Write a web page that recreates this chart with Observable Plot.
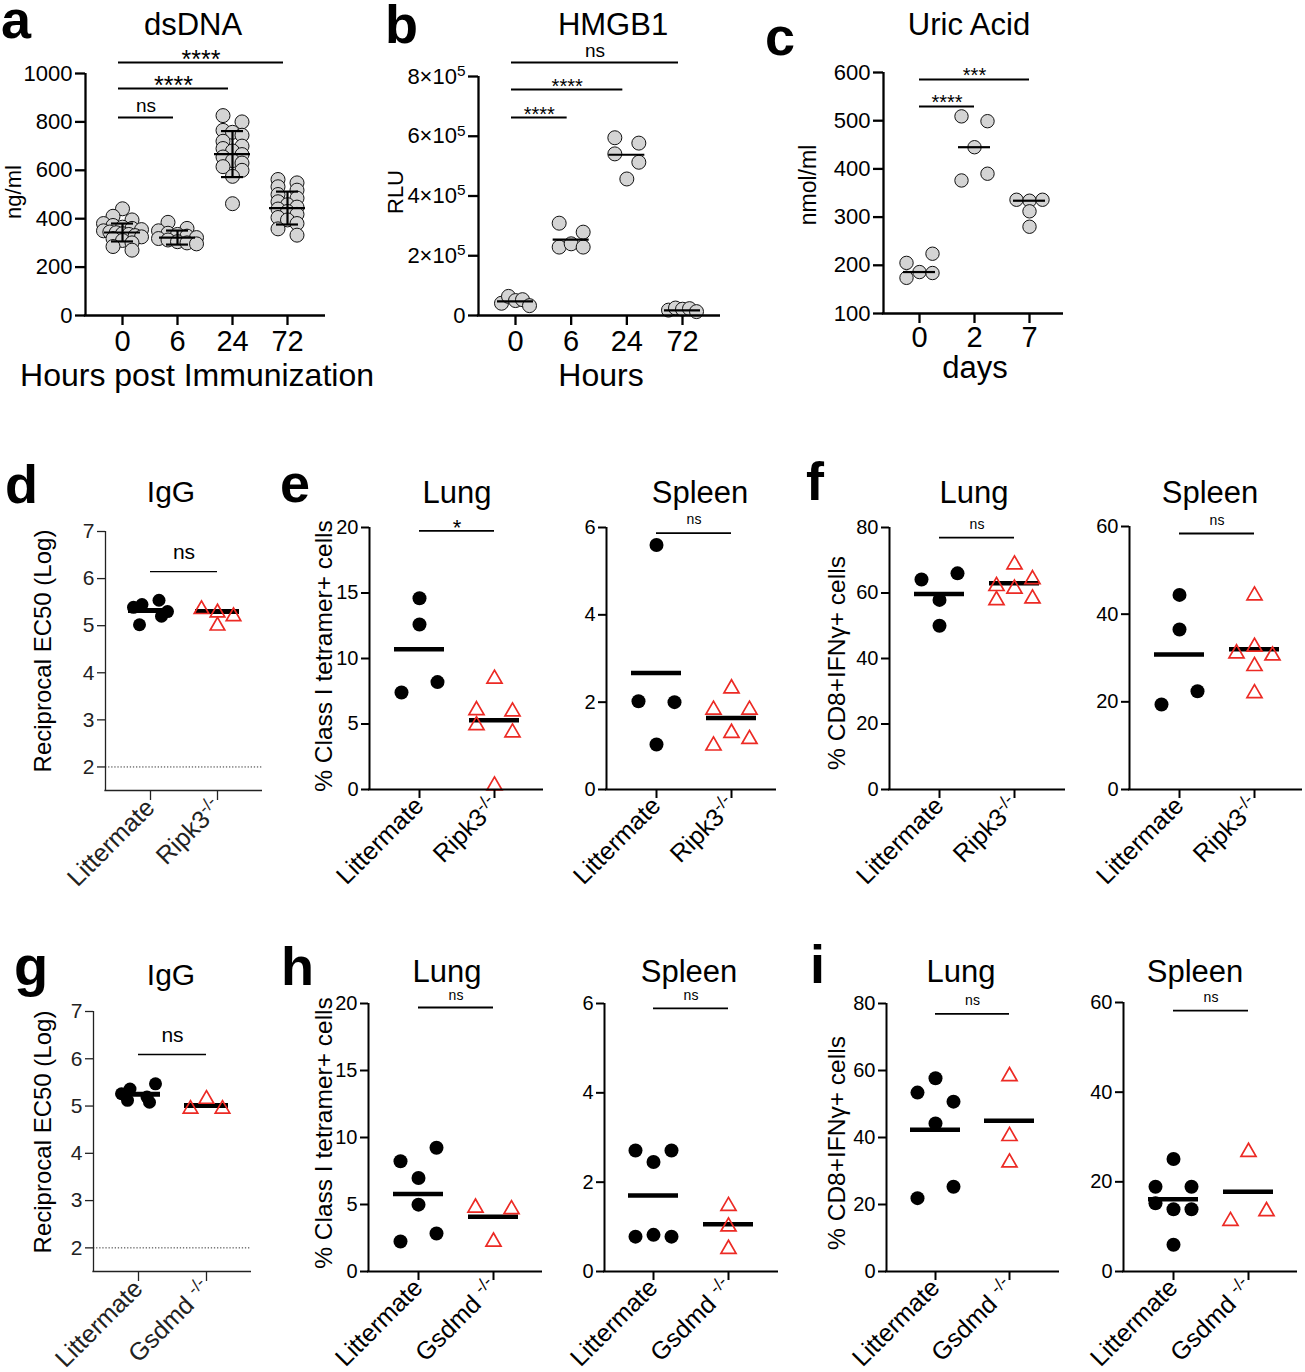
<!DOCTYPE html>
<html><head><meta charset="utf-8">
<script src="https://cdn.jsdelivr.net/npm/d3@7"></script>
<script src="https://cdn.jsdelivr.net/npm/@observablehq/plot@0.6"></script>
<style>
html,body{margin:0;padding:0;background:#fff;}
#fig{position:relative;width:1305px;height:1372px;overflow:hidden;background:#fff;}
</style></head><body><div id="fig"></div>
<script>
// ---------------- DATA ----------------
// a: dsDNA
const aCategories = ["0", "6", "24", "72"];
const aGroup0 = [441, 410, 395, 380, 372, 365, 360, 355, 350, 345, 342, 338, 335, 330, 325, 318, 310, 300, 285, 270];
const aGroup6 = [385, 360, 350, 340, 335, 328, 322, 318, 312, 305, 300, 296];
const aGroup24 = [826, 800, 765, 757, 745, 720, 700, 690, 680, 665, 655, 640, 630, 615, 600, 575, 462];
const aGroup72 = [562, 548, 532, 518, 500, 485, 470, 458, 448, 440, 430, 418, 405, 395, 380, 358, 332];
const aMean = [343, 322, 667, 444];
const aSD = [37, 29, 95, 68];
const aTicks = [0, 200, 400, 600, 800, 1000];
const aSig = [
  {from: "0", to: "6", y: 818, label: "ns"},
  {from: "0", to: "24", y: 938, label: "****"},
  {from: "0", to: "72", y: 1045, label: "****"}
];
// b: HMGB1
const bCategories = ["0", "6", "24", "72"];
const bGroup0 = [41000, 64000, 50000, 53000, 33000];
const bGroup6 = [309000, 279000, 229000, 240000, 229000];
const bGroup24 = [595000, 577000, 541000, 513000, 457000];
const bGroup72 = [18000, 25000, 21000, 23000, 13000];
const bMedian = [47000, 254000, 538000, 17000];
const bTicks = [0, 200000, 400000, 600000, 800000];
const bSig = [
  {from: "0", to: "6", y: 662800, label: "****"},
  {from: "0", to: "24", y: 756500, label: "****"},
  {from: "0", to: "72", y: 846900, label: "ns"}
];
// c: Uric Acid
const cCategories = ["0", "2", "7"];
const cGroup0 = [205, 224, 174, 186, 184];
const cGroup2 = [509, 499, 445, 376, 390];
const cGroup7 = [336, 334, 336, 312, 280];
const cMedian = [186, 445, 334];
const cTicks = [100, 200, 300, 400, 500, 600];
const cSig = [
  {from: "0", to: "2", y: 529.5, label: "****"},
  {from: "0", to: "7", y: 585.5, label: "***"}
];
// group labels
const ripkGroups = ["Littermate", "Ripk3^-/-"];
const gsdmdGroups = ["Littermate", "Gsdmd ^-/-"];
// d: IgG (Ripk3)
const dLitter = [5.39, 5.45, 5.54, 5.30, 5.02, 5.20];
const dRipk3 = [5.39, 5.32, 5.24, 5.04];
const dMean = [5.32, 5.30];
const igTicks = [2, 3, 4, 5, 6, 7];
const dSig = [{from: "Littermate", to: "Ripk3^-/-", y: 6.15, label: "ns"}];
// e: Class I tetramer+ (Ripk3)
const eLungLitter = [14.6, 12.6, 7.4, 8.2];
const eLungRipk3 = [8.6, 6.2, 6.1, 5.05, 4.5, 0.45];
const eLungMean = [10.7, 5.28];
const eSpleenLitter = [5.6, 2.02, 2.0, 1.03];
const eSpleenRipk3 = [2.36, 1.87, 1.87, 1.05, 1.34, 1.2];
const eSpleenMean = [2.67, 1.64];
const tetLungTicks = [0, 5, 10, 15, 20];
const tetSpleenTicks = [0, 2, 4, 6];
const eLungSig = [{from: "Littermate", to: "Ripk3^-/-", y: 19.75, label: "*"}];
const eSpleenSig = [{from: "Littermate", to: "Ripk3^-/-", y: 5.87, label: "ns"}];
// f: CD8+IFNg+ (Ripk3)
const fLungLitter = [64.1, 66.0, 57.9, 50.0];
const fLungRipk3 = [69.3, 62.7, 61.9, 64.8, 58.4, 58.9];
const fLungMean = [59.7, 63.0];
const fSpleenLitter = [44.4, 36.5, 19.4, 22.4];
const fSpleenRipk3 = [44.7, 31.5, 33.0, 31.0, 28.6, 22.4];
const fSpleenMean = [30.8, 32.0];
const ifnLungTicks = [0, 20, 40, 60, 80];
const ifnSpleenTicks = [0, 20, 40, 60];
const fLungSig = [{from: "Littermate", to: "Ripk3^-/-", y: 76.9, label: "ns"}];
const fSpleenSig = [{from: "Littermate", to: "Ripk3^-/-", y: 58.4, label: "ns"}];
// g: IgG (Gsdmd)
const gLitter = [5.26, 5.36, 5.19, 5.47, 5.12, 5.08];
const gGsdmd = [4.98, 5.19, 4.98];
const gMean = [5.25, 5.01];
const gSig = [{from: "Littermate", to: "Gsdmd ^-/-", y: 6.09, label: "ns"}];
// h: Class I tetramer+ (Gsdmd)
const hLungLitter = [8.23, 9.23, 6.98, 4.99, 2.24, 2.84];
const hLungGsdmd = [4.91, 4.79, 2.37];
const hLungMean = [5.79, 4.09];
const hSpleenLitter = [2.71, 2.45, 2.71, 0.78, 0.82, 0.78];
const hSpleenGsdmd = [1.51, 1.05, 0.55];
const hSpleenMean = [1.70, 1.06];
const hLungSig = [{from: "Littermate", to: "Gsdmd ^-/-", y: 19.7, label: "ns"}];
const hSpleenSig = [{from: "Littermate", to: "Gsdmd ^-/-", y: 5.89, label: "ns"}];
// i: CD8+IFNg+ (Gsdmd)
const iLungLitter = [57.7, 53.4, 50.7, 44.2, 21.9, 25.3];
const iLungGsdmd = [58.9, 41.0, 33.1];
const iLungMean = [42.3, 45.0];
const iSpleenLitter = [25.1, 18.9, 18.9, 15.2, 13.9, 13.9, 5.95];
const iSpleenGsdmd = [27.1, 11.7, 13.9];
const iSpleenMean = [16.1, 17.8];
const iLungSig = [{from: "Littermate", to: "Gsdmd ^-/-", y: 76.9, label: "ns"}];
const iSpleenSig = [{from: "Littermate", to: "Gsdmd ^-/-", y: 58.2, label: "ns"}];

// ---------------- STYLE / LAYOUT ----------------
const FONT = "'Liberation Sans', Arial, Helvetica, sans-serif";
const RED = "#ec2a24";
const fig = document.getElementById("fig");

const LAY_A = {T: 7, s: 9.5, maxHalf: 19};
const LAY_B = {T: 10, s: 12, maxHalf: 14};
const LAY_C = {T: 10, s: 13, maxHalf: 14};
const LAY_DG_DOT = {T: 13.5, s: 11, maxHalf: 17};
const LAY_DG_TRI = {T: 13.5, s: 16, maxHalf: 16};
const LAY_EI = {T: 13.5, s: 18, maxHalf: 18};

const ST_TOP = {axisW: 2.3, axisColor: "black", yTickSize: 10, xTickSize: 10, xTickPad: 5, yFont: 22, xFont: 29,
  rotate: 0, r: 7, triR: 5.6, lineHalf: 18, lineW: 2.2, capHalf: 11, sigW: 2, nsFont: 19, nsDy: -6,
  starFont: 20, starDy: 4, sigDx: 0, linesOnTop: true};
const ST_DG = {axisW: 1.3, axisColor: "#222", yTickSize: 8, xTickSize: 10, xTickPad: 3, yFont: 21, xFont: 25,
  rotate: -45, r: 6.5, triR: 5.4, lineHalf: 22, lineW: 5, sigW: 1.3, nsFont: 21, nsDy: -13,
  starFont: 22, starDy: 4, sigDx: 0, linesOnTop: false};
const ST_EI = {axisW: 2, axisColor: "black", yTickSize: 8, xTickSize: 9, xTickPad: 3, yFont: 20, xFont: 25,
  rotate: -45, r: 7, triR: 5.6, lineHalf: 25, lineW: 4.5, sigW: 1.8, nsFont: 14, nsDy: -9,
  starFont: 22, starDy: 4.5, sigDx: 0, linesOnTop: false};

// Row-based scatter layout (GraphPad-like): points within T px share a row and spread horizontally.
function layoutOffsets(values, ppu, {T, s, maxHalf}) {
  const order = values.map((v, i) => i).sort((a, b) => values[b] - values[a]);
  const rows = [];
  let cur = null;
  for (const i of order) {
    const p = values[i] * ppu;
    if (cur && cur.first - p <= T) cur.members.push(i);
    else { cur = {first: p, members: [i]}; rows.push(cur); }
  }
  const off = new Array(values.length).fill(0);
  for (const r of rows) {
    r.members.sort((a, b) => a - b);
    const n = r.members.length;
    let slots;
    if (n % 2) slots = d3.range(n).map(k => k - (n - 1) / 2);
    else slots = [...d3.range(-n / 2, 0), ...d3.range(1, n / 2 + 1)];
    const maxSlot = Math.max(1, ...slots.map(Math.abs));
    const step = Math.min(s, maxHalf / maxSlot);
    r.members.forEach((m, k) => off[m] = slots[k] * step);
  }
  return off;
}

function superscripts(svg) {
  svg.querySelectorAll("text").forEach(t => {
    const nodes = t.querySelector("tspan") ? [...t.querySelectorAll("tspan")] : [t];
    nodes.forEach(node => {
      const s = node.textContent;
      if (!s.includes("^")) return;
      const [base, sup] = s.split("^");
      node.textContent = base;
      const ts = document.createElementNS("http://www.w3.org/2000/svg", "tspan");
      ts.setAttribute("dy", "-0.5em");
      ts.setAttribute("font-size", "0.7em");
      ts.textContent = sup;
      node.appendChild(ts);
    });
  });
}

function buildPanel(c) {
  const st = c.st;
  const n = c.labels.length;
  const step = (c.cats[n - 1] - c.cats[0]) / (n - 1);
  const xd = [(c.x0 - c.cats[0]) / step, (c.x1 - c.cats[0]) / step];
  const pad = {l: 75, r: 14, t: 64, b: st.rotate ? 125 : 60};
  const left = c.x0 - pad.l, top = c.yTop - pad.t;
  const width = c.x1 + pad.r - left, height = c.yBot + pad.b - top;
  const ppu = (c.yBot - c.yTop) / (c.yDomain[1] - c.yDomain[0]);
  const ci = name => c.labels.indexOf(name);

  const pts = [];
  c.groups.forEach((g, gi) => {
    const off = layoutOffsets(g.values, ppu, g.layout);
    g.values.forEach((v, k) => pts.push({x: gi + off[k] / step, y: v, kind: g.kind}));
  });
  const centers = c.centers.map((v, i) => ({i, y: v}));
  const hw = st.lineHalf / step;

  const marks = [];
  if (c.dotted != null) marks.push(Plot.ruleY([c.dotted], {x1: xd[0], x2: xd[1], stroke: "#333", strokeWidth: 1, strokeDasharray: "1.3 1.8"}));

  const lineMarks = [Plot.ruleY(centers, {y: "y", x1: d => d.i - hw, x2: d => d.i + hw, stroke: "black", strokeWidth: st.lineW})];
  if (c.sd) {
    const eb = c.centers.map((m, i) => ({i, lo: m - c.sd[i], hi: m + c.sd[i]}));
    const ch = st.capHalf / step;
    lineMarks.push(Plot.ruleX(eb, {x: "i", y1: "lo", y2: "hi", stroke: "black", strokeWidth: st.lineW}));
    lineMarks.push(Plot.ruleY(eb, {y: "lo", x1: d => d.i - ch, x2: d => d.i + ch, stroke: "black", strokeWidth: st.lineW}));
    lineMarks.push(Plot.ruleY(eb, {y: "hi", x1: d => d.i - ch, x2: d => d.i + ch, stroke: "black", strokeWidth: st.lineW}));
  }
  const dotMarks = [];
  const gray = pts.filter(p => p.kind === "gray"), black = pts.filter(p => p.kind === "black"), tri = pts.filter(p => p.kind === "tri");
  if (gray.length) dotMarks.push(Plot.dot(gray, {x: "x", y: "y", r: st.r, fill: "#d4d4d4", stroke: "#111", strokeWidth: 1}));
  if (black.length) dotMarks.push(Plot.dot(black, {x: "x", y: "y", r: st.r, fill: "black"}));
  if (tri.length) dotMarks.push(Plot.dot(tri, {x: "x", y: "y", r: st.triR, symbol: "triangle", fill: "none", stroke: RED, strokeWidth: 1.7, dy: 2}));
  if (st.linesOnTop) marks.push(...dotMarks, ...lineMarks); else marks.push(...lineMarks, ...dotMarks);

  marks.push(Plot.ruleX([xd[0]], {y1: c.yDomain[0], y2: c.yDomain[1], stroke: st.axisColor, strokeWidth: st.axisW}));
  marks.push(Plot.ruleY([c.yDomain[0]], {x1: xd[0] - st.axisW / 2 / step, x2: xd[1], stroke: st.axisColor, strokeWidth: st.axisW}));
  marks.push(Plot.axisY({ticks: c.yTicks, tickFormat: c.yFormat || (d => String(d)), tickSize: st.yTickSize, tickPadding: 3,
    fontSize: st.yFont, color: st.axisColor, strokeWidth: st.axisW, label: null}));
  marks.push(Plot.axisX({ticks: d3.range(n), tickFormat: i => c.labels[i], tickSize: st.xTickSize, tickPadding: st.xTickPad,
    fontSize: st.xFont, tickRotate: st.rotate, color: st.axisColor, strokeWidth: st.axisW, label: null}));

  const sig = c.sig.map(s => ({...s, a: ci(s.from), b: ci(s.to)}));
  const sdx = st.sigDx || 0;
  marks.push(Plot.ruleY(sig, {y: "y", x1: "a", x2: "b", stroke: "black", strokeWidth: st.sigW, dx: sdx}));
  const ns = sig.filter(s => !s.label.startsWith("*")), stars = sig.filter(s => s.label.startsWith("*"));
  if (ns.length) marks.push(Plot.text(ns, {x: d => (d.a + d.b) / 2, y: "y", text: "label", lineAnchor: "bottom", dy: st.nsDy, dx: sdx, fontSize: st.nsFont, fill: "black"}));
  if (stars.length) marks.push(Plot.text(stars, {x: d => (d.a + d.b) / 2, y: "y", text: "label", lineAnchor: "bottom", dy: st.starDy, dx: sdx, fontSize: st.starFont, fill: "black"}));

  const svg = Plot.plot({
    width, height,
    marginLeft: pad.l, marginRight: pad.r, marginTop: pad.t, marginBottom: pad.b,
    x: {type: "linear", domain: xd},
    y: {type: "linear", domain: c.yDomain},
    style: {position: "absolute", left: left + "px", top: top + "px", background: "transparent", overflow: "visible", fontFamily: FONT, color: "black", maxWidth: "none"},
    marks
  });
  superscripts(svg);
  fig.appendChild(svg);
}

const sciFormat = d => d === 0 ? "0" : `${d / 100000}×10^5`;

const panels = [
  {st: {...ST_TOP, starFont: 25, starDy: 5, sigDx: -4}, x0: 85, x1: 325, yTop: 73, yBot: 315, cats: [122, 177, 232, 287], labels: aCategories,
   yDomain: [0, 1000], yTicks: aTicks, centers: aMean, sd: aSD, sig: aSig,
   groups: [aGroup0, aGroup6, aGroup24, aGroup72].map(v => ({values: v, kind: "gray", layout: LAY_A}))},
  {st: {...ST_TOP, nsDy: -5, sigDx: -4}, x0: 478, x1: 720, yTop: 76, yBot: 315, cats: [515, 571, 626, 682], labels: bCategories,
   yDomain: [0, 800000], yTicks: bTicks, yFormat: sciFormat, centers: bMedian, sig: bSig,
   groups: [bGroup0, bGroup6, bGroup24, bGroup72].map(v => ({values: v, kind: "gray", layout: LAY_B}))},
  {st: {...ST_TOP, r: 6.7, lineHalf: 16, starDy: 3, xTickPad: 3}, x0: 883, x1: 1063, yTop: 72, yBot: 313, cats: [919, 973, 1029], labels: cCategories,
   yDomain: [100, 600], yTicks: cTicks, centers: cMedian, sig: cSig,
   groups: [cGroup0, cGroup2, cGroup7].map(v => ({values: v, kind: "gray", layout: LAY_C}))},
  // d
  {st: ST_DG, x0: 105, x1: 262, yTop: 531, yBot: 790, cats: [150, 217], labels: ripkGroups, yDomain: [1.5, 7], yTicks: igTicks,
   centers: dMean, sig: dSig, dotted: 2,
   groups: [{values: dLitter, kind: "black", layout: LAY_DG_DOT}, {values: dRipk3, kind: "tri", layout: LAY_DG_TRI}]},
  // e
  {st: ST_EI, x0: 369, x1: 543, yTop: 527, yBot: 789, cats: [419, 494], labels: ripkGroups, yDomain: [0, 20], yTicks: tetLungTicks,
   centers: eLungMean, sig: eLungSig,
   groups: [{values: eLungLitter, kind: "black", layout: LAY_EI}, {values: eLungRipk3, kind: "tri", layout: LAY_EI}]},
  {st: ST_EI, x0: 606, x1: 776, yTop: 527, yBot: 789, cats: [656, 731], labels: ripkGroups, yDomain: [0, 6], yTicks: tetSpleenTicks,
   centers: eSpleenMean, sig: eSpleenSig,
   groups: [{values: eSpleenLitter, kind: "black", layout: LAY_EI}, {values: eSpleenRipk3, kind: "tri", layout: LAY_EI}]},
  // f
  {st: ST_EI, x0: 889, x1: 1065, yTop: 527, yBot: 789, cats: [939, 1014], labels: ripkGroups, yDomain: [0, 80], yTicks: ifnLungTicks,
   centers: fLungMean, sig: fLungSig,
   groups: [{values: fLungLitter, kind: "black", layout: LAY_EI}, {values: fLungRipk3, kind: "tri", layout: LAY_EI}]},
  {st: ST_EI, x0: 1129, x1: 1302, yTop: 526, yBot: 789, cats: [1179, 1254], labels: ripkGroups, yDomain: [0, 60], yTicks: ifnSpleenTicks,
   centers: fSpleenMean, sig: fSpleenSig,
   groups: [{values: fSpleenLitter, kind: "black", layout: LAY_EI}, {values: fSpleenRipk3, kind: "tri", layout: LAY_EI}]},
  // g
  {st: ST_DG, x0: 93, x1: 251, yTop: 1011, yBot: 1271, cats: [138, 206], labels: gsdmdGroups, yDomain: [1.5, 7], yTicks: igTicks,
   centers: gMean, sig: gSig, dotted: 2,
   groups: [{values: gLitter, kind: "black", layout: LAY_DG_DOT}, {values: gGsdmd, kind: "tri", layout: LAY_DG_TRI}]},
  // h
  {st: {...ST_EI, nsDy: -8}, x0: 368, x1: 542, yTop: 1003, yBot: 1271, cats: [418, 493], labels: gsdmdGroups, yDomain: [0, 20], yTicks: tetLungTicks,
   centers: hLungMean, sig: hLungSig,
   groups: [{values: hLungLitter, kind: "black", layout: LAY_EI}, {values: hLungGsdmd, kind: "tri", layout: LAY_EI}]},
  {st: {...ST_EI, nsDy: -8}, x0: 604, x1: 778, yTop: 1003, yBot: 1271, cats: [653, 728], labels: gsdmdGroups, yDomain: [0, 6], yTicks: tetSpleenTicks,
   centers: hSpleenMean, sig: hSpleenSig,
   groups: [{values: hSpleenLitter, kind: "black", layout: LAY_EI}, {values: hSpleenGsdmd, kind: "tri", layout: LAY_EI}]},
  // i
  {st: ST_EI, x0: 886, x1: 1059, yTop: 1003, yBot: 1271, cats: [935, 1009], labels: gsdmdGroups, yDomain: [0, 80], yTicks: ifnLungTicks,
   centers: iLungMean, sig: iLungSig,
   groups: [{values: iLungLitter, kind: "black", layout: LAY_EI}, {values: iLungGsdmd, kind: "tri", layout: LAY_EI}]},
  {st: ST_EI, x0: 1123, x1: 1297, yTop: 1002, yBot: 1271, cats: [1173, 1248], labels: gsdmdGroups, yDomain: [0, 60], yTicks: ifnSpleenTicks,
   centers: iSpleenMean, sig: iSpleenSig,
   groups: [{values: iSpleenLitter, kind: "black", layout: LAY_EI}, {values: iSpleenGsdmd, kind: "tri", layout: LAY_EI}]}
];
panels.forEach(buildPanel);

// ---------------- TEXT OVERLAY (panel letters, titles, axis titles) ----------------
const texts = [
  {t: "a", x: 1, y: 38, size: 54, bold: true}, {t: "b", x: 385, y: 43, size: 54, bold: true}, {t: "c", x: 765, y: 55, size: 54, bold: true},
  {t: "d", x: 5, y: 503, size: 54, bold: true}, {t: "e", x: 280, y: 502, size: 54, bold: true}, {t: "f", x: 806, y: 500, size: 54, bold: true},
  {t: "g", x: 14, y: 985, size: 56, bold: true}, {t: "h", x: 281, y: 985, size: 54, bold: true}, {t: "i", x: 810, y: 983, size: 54, bold: true},
  {t: "dsDNA", x: 193, y: 35, size: 31, anchor: "middle"},
  {t: "HMGB1", x: 613, y: 35, size: 31, anchor: "middle"},
  {t: "Uric Acid", x: 969, y: 35, size: 31, anchor: "middle"},
  {t: "IgG", x: 171, y: 502, size: 30, anchor: "middle"},
  {t: "Lung", x: 457, y: 503, size: 31, anchor: "middle"}, {t: "Spleen", x: 700, y: 503, size: 31, anchor: "middle"},
  {t: "Lung", x: 974, y: 503, size: 31, anchor: "middle"}, {t: "Spleen", x: 1210, y: 503, size: 31, anchor: "middle"},
  {t: "IgG", x: 171, y: 985, size: 30, anchor: "middle"},
  {t: "Lung", x: 447, y: 982, size: 31, anchor: "middle"}, {t: "Spleen", x: 689, y: 982, size: 31, anchor: "middle"},
  {t: "Lung", x: 961, y: 982, size: 31, anchor: "middle"}, {t: "Spleen", x: 1195, y: 982, size: 31, anchor: "middle"},
  {t: "Hours post Immunization", x: 197, y: 386, size: 32, anchor: "middle"},
  {t: "Hours", x: 601, y: 386, size: 32, anchor: "middle"},
  {t: "days", x: 975, y: 378, size: 31, anchor: "middle"},
  {t: "ng/ml", x: 21, y: 192, size: 22, anchor: "middle", rotate: -90},
  {t: "RLU", x: 403, y: 192, size: 22, anchor: "middle", rotate: -90},
  {t: "nmol/ml", x: 816, y: 185, size: 23, anchor: "middle", rotate: -90},
  {t: "Reciprocal EC50  (Log)", x: 51, y: 651, size: 24, anchor: "middle", rotate: -90},
  {t: "% Class I tetramer+ cells", x: 332, y: 656, size: 24.5, anchor: "middle", rotate: -90},
  {t: "% CD8+IFNγ+ cells", x: 845, y: 663, size: 24.5, anchor: "middle", rotate: -90},
  {t: "Reciprocal EC50  (Log)", x: 51, y: 1132, size: 24, anchor: "middle", rotate: -90},
  {t: "% Class I tetramer+ cells", x: 332, y: 1133, size: 24.5, anchor: "middle", rotate: -90},
  {t: "% CD8+IFNγ+ cells", x: 845, y: 1143, size: 24.5, anchor: "middle", rotate: -90}
];
const overlay = d3.create("svg").attr("width", 1305).attr("height", 1372)
  .style("position", "absolute").style("left", "0px").style("top", "0px")
  .style("font-family", FONT).style("pointer-events", "none");
texts.forEach(d => overlay.append("text")
  .attr("transform", `translate(${d.x},${d.y})` + (d.rotate ? ` rotate(${d.rotate})` : ""))
  .attr("text-anchor", d.anchor || "start")
  .attr("font-size", d.size)
  .attr("font-weight", d.bold ? "bold" : null)
  .attr("fill", "black")
  .text(d.t));
fig.appendChild(overlay.node());
</script>
</body></html>
